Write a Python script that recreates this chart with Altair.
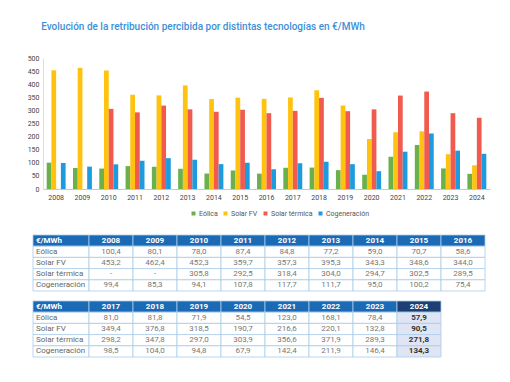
import altair as alt
import pandas as pd

years = [str(y) for y in range(2008, 2025)]
series = ["Eólica", "Solar FV", "Solar térmica", "Cogeneración"]
eolica = [100.4, 80.1, 78.0, 87.4, 84.8, 77.2, 59.0, 70.7, 58.6, 81.0, 81.8, 71.9, 54.5, 123.0, 168.1, 78.4, 57.9]
solar_fv = [453.2, 462.4, 452.3, 359.7, 357.3, 395.3, 343.3, 348.6, 344.0, 349.4, 376.8, 318.5, 190.7, 216.6, 220.1, 132.8, 90.5]
solar_termica = [None, None, 305.8, 292.5, 318.4, 304.0, 294.7, 302.5, 289.5, 298.2, 347.8, 297.0, 303.9, 356.6, 371.9, 289.3, 271.8]
cogeneracion = [99.4, 85.3, 94.1, 107.8, 117.7, 111.7, 95.0, 100.2, 75.4, 98.5, 104.0, 94.8, 67.9, 142.4, 211.9, 146.4, 134.3]
colors = ["#6ab04c", "#ffc20e", "#f05a4f", "#1e9bdf"]
table_header = "€/MWh"
table1_years = years[:9]
table2_years = years[9:]
highlight_year = "2024"

FONT = "Roboto"
values_by_series = dict(zip(series, [eolica, solar_fv, solar_termica, cogeneracion]))

rows = []
for s in series:
    for y, v in zip(years, values_by_series[s]):
        if v is not None:
            rows.append({"year": y, "serie": s, "value": v})
bar_df = pd.DataFrame(rows)

bars = alt.Chart(bar_df).mark_bar().encode(
    x=alt.X("year:N", sort=years, title=None,
            scale=alt.Scale(paddingInner=0.28, paddingOuter=0.14),
            axis=alt.Axis(labelAngle=0, ticks=False, domainColor="#c8c8c8",
                          labelFont=FONT, labelFontSize=7, labelColor="#444", labelPadding=4)),
    xOffset=alt.XOffset("serie:N", sort=series, scale=alt.Scale(domain=series)),
    y=alt.Y("value:Q", title=None,
            scale=alt.Scale(domain=[0, 500], nice=False),
            axis=alt.Axis(values=list(range(0, 501, 50)), grid=False, ticks=False,
                          domainColor="#dddddd", labelFont=FONT, labelFontSize=7,
                          labelColor="#444", labelPadding=4)),
    color=alt.Color("serie:N", sort=series,
                    scale=alt.Scale(domain=series, range=colors),
                    legend=alt.Legend(title=None, orient="none", direction="horizontal",
                                      legendX=147, legendY=152, symbolType="square",
                                      symbolSize=16, symbolStrokeWidth=0, labelFont=FONT,
                                      labelFontSize=7, labelColor="#555", columnPadding=4,
                                      labelOffset=2, gridAlign="none")),
).properties(width=447, height=131)


def fmt(v):
    return "-" if v is None else f"{v:.1f}".replace(".", ",")


LABW = 56 / 44


def table(yrs, width):
    cells = []
    cells.append({"x0": 0, "x1": LABW, "xm": LABW / 2, "r0": 0, "r1": 1, "rm": 0.5,
                  "text": table_header, "kind": "hdr_lab"})
    for i, y in enumerate(yrs):
        k = "hdr_hi" if y == highlight_year else "hdr"
        cells.append({"x0": LABW + i, "x1": LABW + i + 1, "xm": LABW + i + 0.5,
                      "r0": 0, "r1": 1, "rm": 0.5, "text": y, "kind": k})
    for j, s in enumerate(series):
        cells.append({"x0": 0, "x1": LABW, "xm": LABW / 2, "r0": j + 1, "r1": j + 2,
                      "rm": j + 1.5, "text": s, "kind": "lab"})
        for i, y in enumerate(yrs):
            v = values_by_series[s][years.index(y)]
            k = "val_hi" if y == highlight_year else "val"
            cells.append({"x0": LABW + i, "x1": LABW + i + 1, "xm": LABW + i + 0.5,
                          "r0": j + 1, "r1": j + 2, "rm": j + 1.5, "text": fmt(v), "kind": k})
    df = pd.DataFrame(cells)
    ncols = len(yrs)
    xs = alt.Scale(domain=[10 / 44, LABW + ncols], nice=False, zero=False)
    ys = alt.Scale(domain=[0, 5], reverse=True, nice=False, zero=False)
    base = alt.Chart(df)
    kinds = ["hdr_lab", "hdr", "hdr_hi", "lab", "val", "val_hi"]
    fills = ["#1b6ab5", "#1b6ab5", "#1e3f74", "#ffffff", "#ffffff", "#dfe5f5"]
    rect = base.mark_rect(stroke="#a9cbe8", strokeWidth=0.8).encode(
        x=alt.X("x0:Q", scale=xs, axis=None), x2="x1:Q",
        y=alt.Y("r0:Q", scale=ys, axis=None), y2="r1:Q",
        fill=alt.Fill("kind:N", scale=alt.Scale(domain=kinds, range=fills), legend=None),
    )
    hdr_lab = base.transform_filter(alt.datum.kind == "hdr_lab").mark_text(
        align="left", dx=3, font=FONT, fontSize=8, fontWeight="bold", color="white"
    ).encode(x=alt.X("x0:Q", scale=xs), y=alt.Y("rm:Q", scale=ys), text="text:N")
    hdr = base.transform_filter("datum.kind == 'hdr' || datum.kind == 'hdr_hi'").mark_text(
        font=FONT, fontSize=8, fontWeight="bold", color="white"
    ).encode(x=alt.X("xm:Q", scale=xs), y=alt.Y("rm:Q", scale=ys), text="text:N")
    lab = base.transform_filter(alt.datum.kind == "lab").mark_text(
        align="left", dx=3, font=FONT, fontSize=8, color="#666"
    ).encode(x=alt.X("x0:Q", scale=xs), y=alt.Y("rm:Q", scale=ys), text="text:N")
    val = base.transform_filter(alt.datum.kind == "val").mark_text(
        font=FONT, fontSize=8, color="#777"
    ).encode(x=alt.X("xm:Q", scale=xs), y=alt.Y("rm:Q", scale=ys), text="text:N")
    val_hi = base.transform_filter(alt.datum.kind == "val_hi").mark_text(
        font=FONT, fontSize=8, fontWeight="bold", color="#333"
    ).encode(x=alt.X("xm:Q", scale=xs), y=alt.Y("rm:Q", scale=ys), text="text:N")
    return alt.layer(rect, hdr_lab, hdr, lab, val, val_hi).properties(width=width, height=56)


t1 = table(table1_years, 442)
t2 = table(table2_years, 398)

chart = alt.vconcat(
    bars,
    alt.vconcat(t1, t2, spacing=8),
    spacing=34,
).properties(
    title=alt.TitleParams("Evolución de la retribución percibida por distintas tecnologías en €/MWh",
                          anchor="start", font=FONT, fontSize=10, fontWeight=500,
                          color="#3d8fd8", offset=22, dx=14),
    padding={"left": 19, "top": 14, "right": 5, "bottom": 5},
).configure_view(stroke=None)

chart.save("out.html", embed_options={"renderer": "svg", "actions": False})
